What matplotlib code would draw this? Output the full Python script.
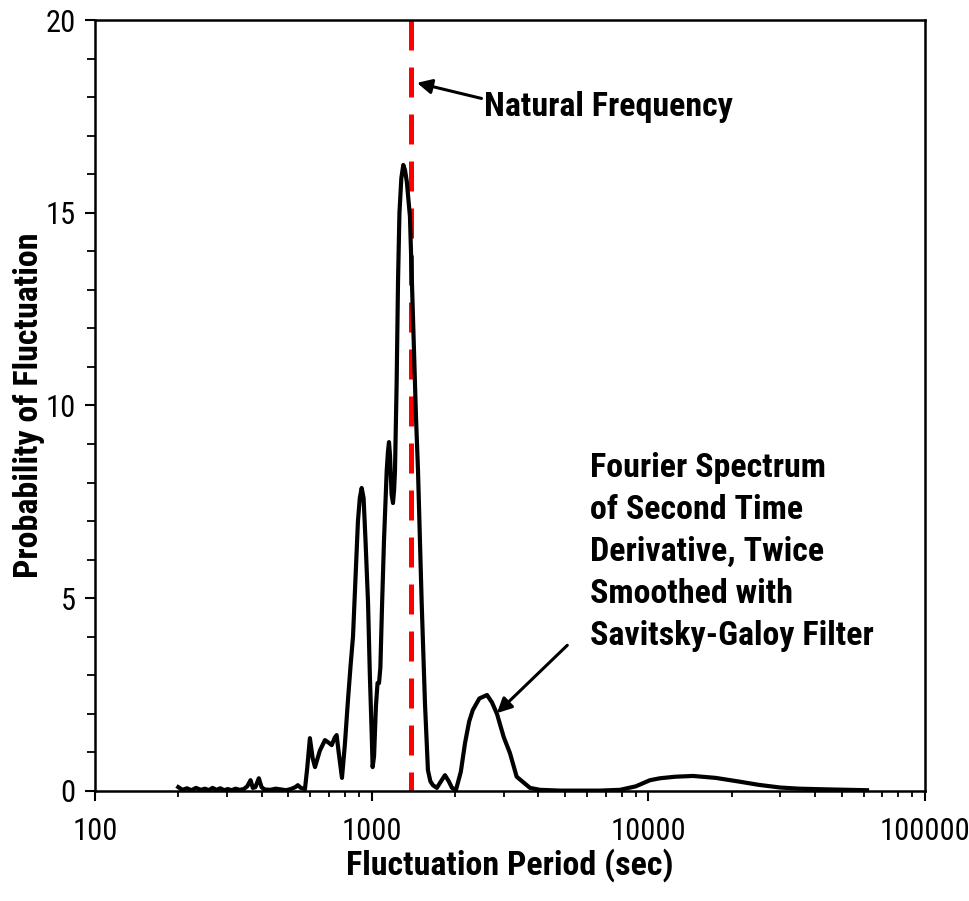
import matplotlib
matplotlib.use("Agg")
import matplotlib.pyplot as plt
from matplotlib import font_manager as fm
from matplotlib.ticker import MultipleLocator, LogLocator, NullFormatter

# data
period = [200, 207, 215, 223, 232, 241, 250, 258, 266, 275, 284, 293, 302, 312,
          322, 333, 345, 355, 365, 372, 380, 391, 400, 410, 430, 450, 470, 490,
          510, 530, 541, 555, 574, 585, 598, 612, 624, 650, 678, 700, 717, 735,
          747, 760, 781, 800, 821, 840, 856, 875, 892, 906, 920, 935, 950, 970,
          985, 1000, 1008, 1020, 1036, 1050, 1063, 1075, 1090, 1108, 1133, 1145,
          1155, 1165, 1180, 1194, 1205, 1214, 1231, 1245, 1260, 1280, 1301, 1320,
          1340, 1375, 1410, 1446, 1470, 1516, 1558, 1597, 1630, 1665, 1720, 1780,
          1840, 1900, 1951, 2017, 2100, 2174, 2250, 2320, 2450, 2611, 2720, 2837,
          3000, 3161, 3342, 3734, 4058, 4793, 6687, 7897, 9000, 10135, 11014,
          12500, 14500, 17500, 21440, 25000, 29900, 35000, 45330, 61660]
prob = [0.10, 0.03, 0.07, 0.02, 0.08, 0.03, 0.06, 0.02, 0.08, 0.03, 0.07, 0.02,
        0.05, 0.02, 0.06, 0.03, 0.05, 0.12, 0.28, 0.08, 0.10, 0.33, 0.10, 0.04,
        0.03, 0.06, 0.04, 0.02, 0.05, 0.10, 0.15, 0.08, 0.05, 0.60, 1.37, 0.85,
        0.62, 1.05, 1.32, 1.25, 1.19, 1.38, 1.45, 1.00, 0.34, 1.20, 2.36, 3.30,
        4.00, 5.60, 7.00, 7.60, 7.86, 7.60, 6.50, 4.90, 3.00, 1.50, 0.62, 0.90,
        2.20, 2.80, 2.80, 3.20, 4.80, 6.50, 8.30, 8.80, 9.05, 8.70, 7.70, 7.47,
        7.80, 8.30, 10.6, 13.2, 15.0, 15.9, 16.24, 16.1, 15.8, 14.9, 12.3, 9.7,
        8.33, 4.88, 2.28, 0.54, 0.25, 0.15, 0.08, 0.25, 0.41, 0.25, 0.08, 0.03,
        0.50, 1.24, 1.80, 2.10, 2.40, 2.49, 2.30, 2.00, 1.40, 0.98, 0.37, 0.08,
        0.03, 0.01, 0.01, 0.03, 0.12, 0.28, 0.33, 0.37, 0.39, 0.34, 0.24, 0.16,
        0.09, 0.06, 0.04, 0.02]
natural_period = 1390

# pick a narrow face if the machine has one, else plain Liberation Sans
names = {f.name for f in fm.fontManager.ttflist}
wanted = ['Liberation Sans Narrow', 'Arial Narrow', 'Roboto Condensed',
          'Archivo Narrow', 'PT Sans Narrow', 'Open Sans Condensed']
picked = next((n for n in wanted if n in names), None)

if picked:
    fam = [picked, 'Liberation Sans', 'DejaVu Sans']
    big, tick, lsp = 24.5, 22, 1.40
else:
    fam = ['Liberation Sans', 'DejaVu Sans']
    big, tick, lsp = 21, 17, 1.43
plt.rcParams['font.family'] = fam

fig = plt.figure(figsize=(9.69, 9.01), dpi=100)
ax = fig.add_axes([0.098, 0.1221, 0.8567, 0.8557])

ax.plot(period, prob, color='black', lw=3, solid_joinstyle='round', zorder=3)
ax.plot([natural_period, natural_period], [20, 0], color='#ff0000', lw=3.6,
        dashes=(6, 3.4), zorder=2)

ax.set_xscale('log')
ax.set_xlim(100, 100000)
ax.set_ylim(0, 20)
ax.xaxis.set_minor_locator(LogLocator(base=10, subs=range(2, 10), numticks=20))
ax.xaxis.set_minor_formatter(NullFormatter())
ax.set_xticks([100, 1000, 10000, 100000])
ax.set_xticklabels(['100', '1000', '10000', '100000'])
ax.yaxis.set_major_locator(MultipleLocator(5))
ax.yaxis.set_minor_locator(MultipleLocator(1))

for s in ax.spines.values():
    s.set_linewidth(1.8)
ax.tick_params(axis='both', which='major', direction='out', length=7, width=1.5,
               labelsize=tick, color='black')
ax.tick_params(axis='x', which='major', pad=12)
ax.tick_params(axis='y', which='major', pad=7)
ax.tick_params(axis='x', which='minor', direction='out', length=4, width=1.3)
ax.tick_params(axis='y', which='minor', direction='out', length=6, width=1.3)

ax.set_xlabel('Fluctuation Period (sec)', fontsize=big, fontweight='bold',
              labelpad=1)
ax.set_ylabel('Probability of Fluctuation', fontsize=big, fontweight='bold',
              labelpad=0)

ax.annotate('Natural Frequency', xy=(1458, 18.37), xytext=(0.469, 0.887),
            textcoords='axes fraction', ha='left', va='center',
            fontsize=big, fontweight='bold',
            arrowprops=dict(arrowstyle='-|>', color='black', lw=2.2,
                            mutation_scale=22, shrinkA=0, shrinkB=0,
                            relpos=(0, 0.75)))

ax.text(0.596, 0.44, 'Fourier Spectrum\nof Second Time\nDerivative, Twice\n'
        'Smoothed with\nSavitsky-Galoy Filter', transform=ax.transAxes,
        ha='left', va='top', fontsize=big, fontweight='bold',
        linespacing=lsp)
ax.annotate('', xy=(2836, 2.02), xytext=(0.569, 0.189),
            textcoords='axes fraction',
            arrowprops=dict(arrowstyle='-|>', color='black', lw=2.2,
                            mutation_scale=22, shrinkA=0, shrinkB=0))

fig.savefig('out.png', dpi=100)
